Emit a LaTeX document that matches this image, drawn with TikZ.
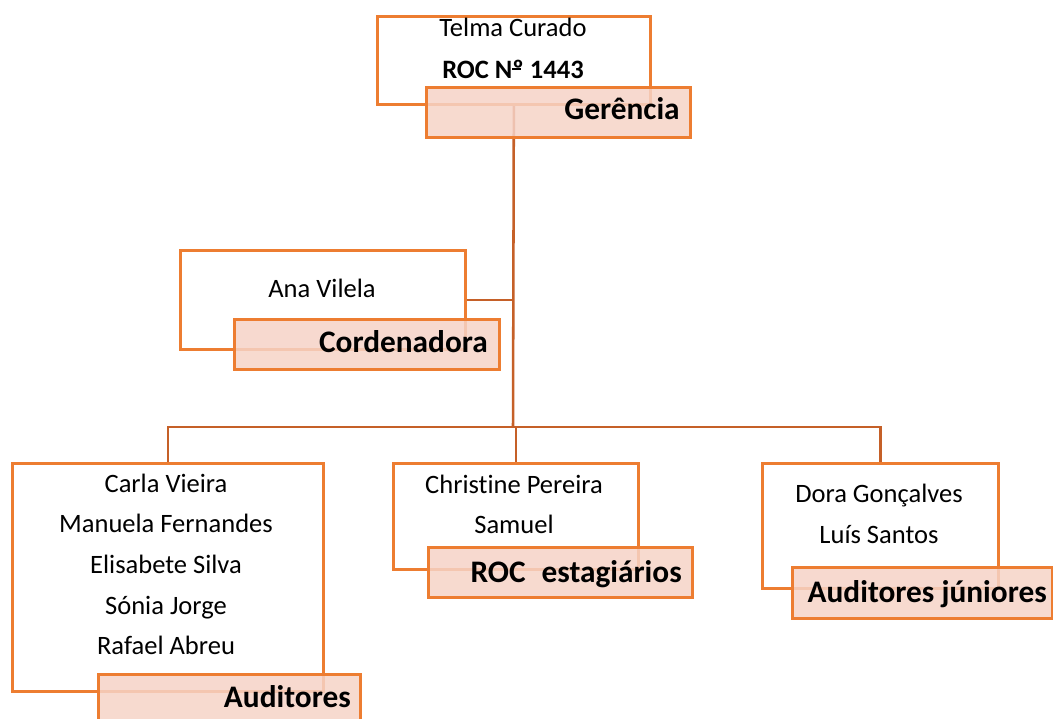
\documentclass[tikz,border=0pt]{standalone}
\usepackage{fontspec}
\setmainfont[Ligatures=NoCommon]{Carlito}
\definecolor{bord}{RGB}{237,125,49}
\definecolor{conncol}{RGB}{197,96,40}
\definecolor{lblfill}{RGB}{246,211,199}
\tikzset{
  topbox/.style={draw=bord, line width=2pt, fill=white, rectangle, inner sep=0pt, anchor=north west},
  lblbox/.style={draw=bord, line width=2pt, fill=lblfill, fill opacity=0.85, rectangle, inner sep=0pt, anchor=north west},
  conn/.style={draw=conncol, line width=1.9pt},
  persontext/.style={anchor=base, inner sep=0pt, font=\fontsize{19.9}{24}\selectfont},
  lbltext/.style={anchor=base east, inner sep=0pt, font=\fontsize{23.5}{28}\selectfont\bfseries}
}
\begin{document}
\begin{tikzpicture}[x=0.75pt,y=-0.75pt]
\useasboundingbox (0,0) rectangle (1053,718);
% person boxes
\node[topbox, minimum width=204.75pt, minimum height=66pt] (g) at (376,15) {};
\node[topbox, minimum width=213.75pt, minimum height=74.25pt] (c) at (179,249) {};
\node[topbox, minimum width=233.25pt, minimum height=171pt] (a) at (11,462) {};
\node[topbox, minimum width=183.75pt, minimum height=79.5pt] (r) at (392,462) {};
\node[topbox, minimum width=177pt, minimum height=93.75pt] (jr) at (761,462) {};
% connectors
\coordinate (bus) at (513,427);
\draw[conn] (g.south) -- (bus);
\draw[conn] (c.east) -- (c.east -| g.south);
\draw[conn] (a.north) |- (bus) -| (jr.north);
\draw[conn] (r.north) -- (r.north |- bus);
% redraw person boxes above connectors
\node[topbox, minimum width=204.75pt, minimum height=66pt] at (376,15) {};
\node[topbox, minimum width=213.75pt, minimum height=74.25pt] at (179,249) {};
\node[topbox, minimum width=233.25pt, minimum height=171pt] at (11,462) {};
\node[topbox, minimum width=183.75pt, minimum height=79.5pt] at (392,462) {};
\node[topbox, minimum width=177pt, minimum height=93.75pt] at (761,462) {};
% label boxes
\node[lblbox, minimum width=198pt, minimum height=37.5pt] (gl) at (425,86) {};
\node[lblbox, minimum width=198.75pt, minimum height=37.5pt] (cl) at (233,318) {};
\node[lblbox, minimum width=196.5pt, minimum height=40pt] (al) at (97,673) {};
\node[lblbox, minimum width=198pt, minimum height=37.5pt] (rl) at (427,546) {};
\node[lblbox, minimum width=195pt, minimum height=38.25pt] (jl) at (791,566) {};
% texts
\node[persontext] (t1) at (513,36) {Telma Curado};
\node[persontext, font=\fontsize{19.9}{24}\selectfont\bfseries] (t2) at (513,78) {ROC N\makebox[0pt][l]{\raisebox{0.3em}{\rule{0.34em}{0.07em}}}º 1443};
\node[lbltext] (t3) at (680,119) {Gerência};
\node[persontext] (t4) at (322,297) {Ana Vilela};
\node[lbltext] (t5) at (488,352) {Cordenadora};
\node[persontext] (t6) at (166,492) {Carla Vieira};
\node[persontext] (t7) at (166,532) {Manuela Fernandes};
\node[persontext] (t8) at (166,573) {Elisabete Silva};
\node[persontext] (t9) at (166,614) {Sónia Jorge};
\node[persontext] (t10) at (166,654) {Rafael Abreu};
\node[lbltext] (t11) at (351,707) {Auditores};
\node[persontext] (t12) at (514,493) {Christine Pereira};
\node[persontext] (t13) at (514,533) {Samuel};
\node[lbltext] (t14) at (682,582) {ROC\hspace{0.28em} estagiários};
\node[persontext] (t15) at (879,502) {Dora Gonçalves};
\node[persontext] (t16) at (879,543) {Luís Santos};
\node[lbltext] (t17) at (1047,602) {Auditores júniores};
\end{tikzpicture}
\end{document}
